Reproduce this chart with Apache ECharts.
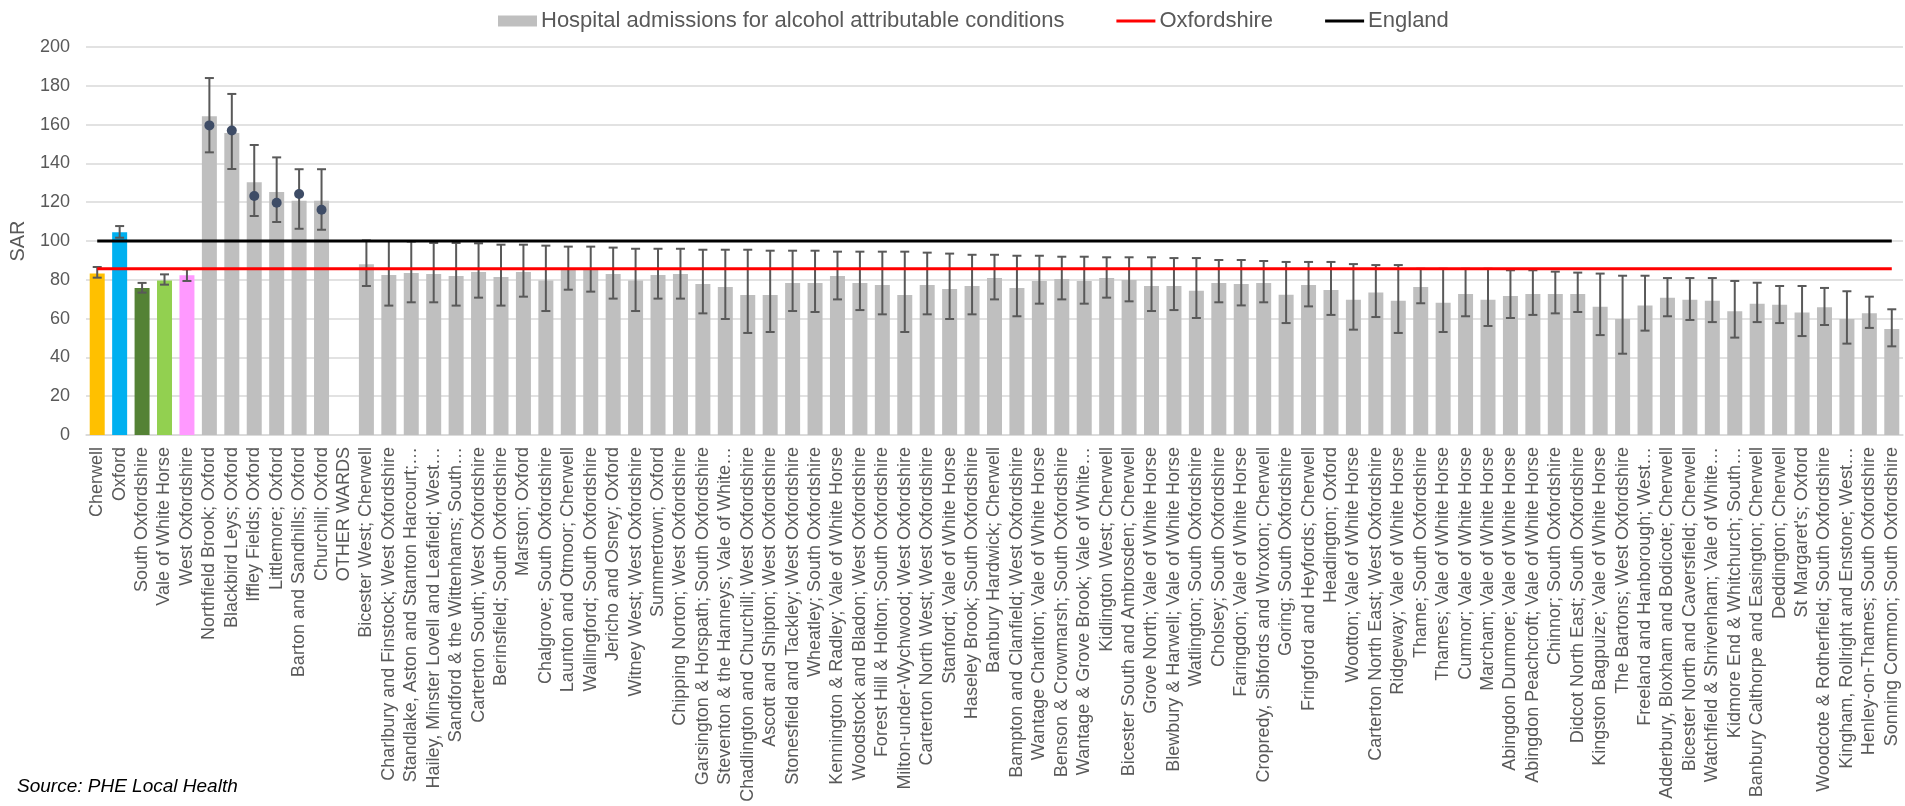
<!DOCTYPE html>
<html>
<head>
<meta charset="utf-8">
<script src="https://cdn.jsdelivr.net/npm/echarts@6/dist/echarts.min.js"></script>
<style>html,body{margin:0;padding:0;background:#fff;}#chart{width:1905px;height:806px;}</style>
</head>
<body>
<div id="chart"></div>
<script>
const categories = [
"Cherwell","Oxford","South Oxfordshire","Vale of White Horse","West Oxfordshire",
"Northfield Brook; Oxford","Blackbird Leys; Oxford","Iffley Fields; Oxford","Littlemore; Oxford","Barton and Sandhills; Oxford","Churchill; Oxford","OTHER WARDS",
"Bicester West; Cherwell","Charlbury and Finstock; West Oxfordshire","Standlake, Aston and Stanton Harcourt;…","Hailey, Minster Lovell and Leafield; West…","Sandford & the Wittenhams; South…","Carterton South; West Oxfordshire","Berinsfield; South Oxfordshire","Marston; Oxford","Chalgrove; South Oxfordshire","Launton and Otmoor; Cherwell","Wallingford; South Oxfordshire","Jericho and Osney; Oxford","Witney West; West Oxfordshire","Summertown; Oxford","Chipping Norton; West Oxfordshire","Garsington & Horspath; South Oxfordshire","Steventon & the Hanneys; Vale of White…",
"Chadlington and Churchill; West Oxfordshire","Ascott and Shipton; West Oxfordshire","Stonesfield and Tackley; West Oxfordshire","Wheatley; South Oxfordshire","Kennington & Radley; Vale of White Horse","Woodstock and Bladon; West Oxfordshire","Forest Hill & Holton; South Oxfordshire","Milton-under-Wychwood; West Oxfordshire","Carterton North West; West Oxfordshire","Stanford; Vale of White Horse","Haseley Brook; South Oxfordshire","Banbury Hardwick; Cherwell","Bampton and Clanfield; West Oxfordshire","Wantage Charlton; Vale of White Horse","Benson & Crowmarsh; South Oxfordshire","Wantage & Grove Brook; Vale of White…","Kidlington West; Cherwell",
"Bicester South and Ambrosden; Cherwell","Grove North; Vale of White Horse","Blewbury & Harwell; Vale of White Horse","Watlington; South Oxfordshire","Cholsey; South Oxfordshire","Faringdon; Vale of White Horse","Cropredy, Sibfords and Wroxton; Cherwell","Goring; South Oxfordshire","Fringford and Heyfords; Cherwell","Headington; Oxford","Wootton; Vale of White Horse","Carterton North East; West Oxfordshire","Ridgeway; Vale of White Horse","Thame; South Oxfordshire","Thames; Vale of White Horse","Cumnor; Vale of White Horse","Marcham; Vale of White Horse","Abingdon Dunmore; Vale of White Horse",
"Abingdon Peachcroft; Vale of White Horse","Chinnor; South Oxfordshire","Didcot North East; South Oxfordshire","Kingston Bagpuize; Vale of White Horse","The Bartons; West Oxfordshire","Freeland and Hanborough; West…","Adderbury, Bloxham and Bodicote; Cherwell","Bicester North and Caversfield; Cherwell","Watchfield & Shrivenham; Vale of White…","Kidmore End & Whitchurch; South…","Banbury Calthorpe and Easington; Cherwell","Deddington; Cherwell","St Margaret's; Oxford","Woodcote & Rotherfield; South Oxfordshire","Kingham, Rollright and Enstone; West…","Henley-on-Thames; South Oxfordshire","Sonning Common; South Oxfordshire"
];

const sarValues = [83.3,104.5,75.8,79.7,82.3,164.3,155.7,130.3,125.3,120.8,120.8,null,
88.0,82.5,83.5,83.0,82.0,84.0,81.4,84.0,79.6,85.0,85.0,83.0,79.6,82.5,83.0,77.8,76.3,
72.2,72.2,78.4,78.4,82.0,78.4,77.3,72.2,77.3,75.3,76.8,80.9,75.8,79.4,80.4,79.4,80.9,
79.9,76.8,76.8,74.4,78.4,77.8,78.4,72.3,77.3,74.7,69.7,73.4,69.2,76.3,68.2,72.7,69.7,71.6,
72.7,72.7,72.7,66.1,59.8,66.7,70.8,69.7,69.2,63.8,67.7,67.2,63.2,65.8,59.8,62.7,54.6];

const lowerCI = [81.1,101.7,73.4,77.5,79.4,145.7,137.1,112.9,109.8,106.3,105.8,null,
76.8,66.7,68.4,68.4,66.7,70.8,66.7,71.3,63.9,74.9,73.9,70.3,63.9,70.3,70.3,62.7,59.8,
52.6,53.1,63.9,63.4,69.9,64.4,62.2,53.1,62.2,59.8,62.2,69.9,61.2,67.7,69.9,67.7,70.8,
68.9,63.9,64.4,60.3,68.4,66.8,68.4,57.7,66.3,61.9,54.3,60.8,52.6,67.9,53.1,61.2,56.2,60.3,
61.9,62.7,63.4,51.5,41.9,53.8,61.2,59.3,58.2,50.2,58.2,57.7,51.0,56.7,47.1,55.2,45.7];

const upperCI = [86.6,107.7,78.4,82.8,85.4,184.0,175.8,149.5,143.1,137.0,137.0,null,
100.3,100.0,99.7,99.0,99.0,98.8,98.1,98.1,97.6,97.1,97.1,96.6,96.0,96.0,96.0,95.5,95.5,
95.5,95.0,95.0,95.0,94.5,94.5,94.5,94.5,94.0,93.5,92.9,92.9,92.4,92.4,91.9,91.9,91.6,
91.6,91.6,91.2,91.2,90.2,90.2,89.7,89.2,89.2,89.2,88.1,87.6,87.6,85.7,85.7,85.7,85.7,84.9,
84.9,84.2,83.7,83.2,82.1,82.1,80.9,80.9,80.9,79.4,78.5,76.8,76.8,75.8,74.1,71.3,64.8];

const markerValues = [null,null,null,null,null,159.6,157.0,123.2,119.7,124.2,116.1,null];

const oxfordshireValue = 85.7;
const englandValue = 100;

const yTicks = {min: 0, max: 200, interval: 20};

const districtColors = ["#FFC000","#00B0F0","#548235","#92D050","#FF99FF"];
const wardColor = "#BFBFBF";

const barData = sarValues.map((v, i) => ({
  value: v,
  itemStyle: {color: i < districtColors.length ? districtColors[i] : wardColor}
}));
const errData = categories.map((c, i) => [i, lowerCI[i], upperCI[i]]);
const markerData = categories.map((c, i) => (i < markerValues.length ? markerValues[i] : null));
const oxLine = categories.map(() => oxfordshireValue);
const engLine = categories.map(() => englandValue);

const chart = echarts.init(document.getElementById('chart'));
const textColor = '#595959';
const font = "'Liberation Sans', Arial, sans-serif";
const lineIcon = 'path://M0,0H40V3H0Z';

chart.setOption({
  animation: false,
  backgroundColor: '#ffffff',
  textStyle: {fontFamily: font},
  legend: {
    left: 493, top: 5,
    itemWidth: 39, itemHeight: 11, itemGap: 52,
    symbolKeepAspect: true,
    textStyle: {fontFamily: font, fontSize: 22, color: textColor, padding: [0, 0, 0, -1]},
    data: [
      {name: 'Hospital admissions for alcohol attributable conditions', icon: 'rect'},
      {name: 'Oxfordshire', icon: lineIcon},
      {name: 'England', icon: lineIcon}
    ]
  },
  grid: {left: 85, right: 2, top: 47, bottom: 371, containLabel: false},
  xAxis: {
    type: 'category',
    data: categories,
    axisTick: {show: false},
    axisLine: {lineStyle: {color: '#D9D9D9', width: 1.5}},
    axisLabel: {rotate: 90, interval: 0, fontSize: 18, color: textColor, margin: 12, fontFamily: font}
  },
  yAxis: {
    type: 'value',
    min: yTicks.min, max: yTicks.max, interval: yTicks.interval,
    name: 'SAR', nameLocation: 'middle', nameGap: 58,
    nameTextStyle: {fontSize: 20, color: textColor, fontFamily: font},
    axisLine: {show: false}, axisTick: {show: false},
    axisLabel: {fontSize: 18, color: textColor, margin: 16, fontFamily: font},
    splitLine: {lineStyle: {color: '#D9D9D9', width: 1.5}}
  },
  series: [
    {
      name: 'Hospital admissions for alcohol attributable conditions',
      type: 'bar', data: barData, barWidth: 15,
      itemStyle: {color: wardColor}, z: 2
    },
    {
      name: 'errorbars', type: 'custom', z: 3,
      data: errData,
      encode: {x: 0, y: [1, 2]},
      renderItem: function (params, api) {
        const lo = api.value(1), hi = api.value(2);
        if (lo == null || hi == null || isNaN(lo) || isNaN(hi)) return null;
        const idx = api.value(0);
        const p1 = api.coord([idx, lo]);
        const p2 = api.coord([idx, hi]);
        const hw = 4.5;
        const st = {stroke: '#595959', lineWidth: 2};
        return {
          type: 'group',
          children: [
            {type: 'line', shape: {x1: p1[0], y1: p1[1], x2: p2[0], y2: p2[1]}, style: st},
            {type: 'line', shape: {x1: p1[0]-hw, y1: p1[1], x2: p1[0]+hw, y2: p1[1]}, style: st},
            {type: 'line', shape: {x1: p2[0]-hw, y1: p2[1], x2: p2[0]+hw, y2: p2[1]}, style: st}
          ]
        };
      }
    },
    {
      name: 'marker', type: 'scatter', data: markerData, z: 4,
      symbol: 'circle', symbolSize: 10,
      itemStyle: {color: '#3E4C66', opacity: 1}
    },
    {
      name: 'Oxfordshire', type: 'line', data: oxLine, z: 5,
      symbol: 'none', lineStyle: {color: '#FF0000', width: 3},
      itemStyle: {color: '#FF0000'}
    },
    {
      name: 'England', type: 'line', data: engLine, z: 5,
      symbol: 'none', lineStyle: {color: '#000000', width: 3},
      itemStyle: {color: '#000000'}
    }
  ],
  graphic: [
    {type: 'text', left: 17, top: 777,
     style: {text: 'Source: PHE Local Health', fontFamily: font, fontStyle: 'italic', fontSize: 19, fill: '#000000'}}
  ]
});
</script>
</body>
</html>
